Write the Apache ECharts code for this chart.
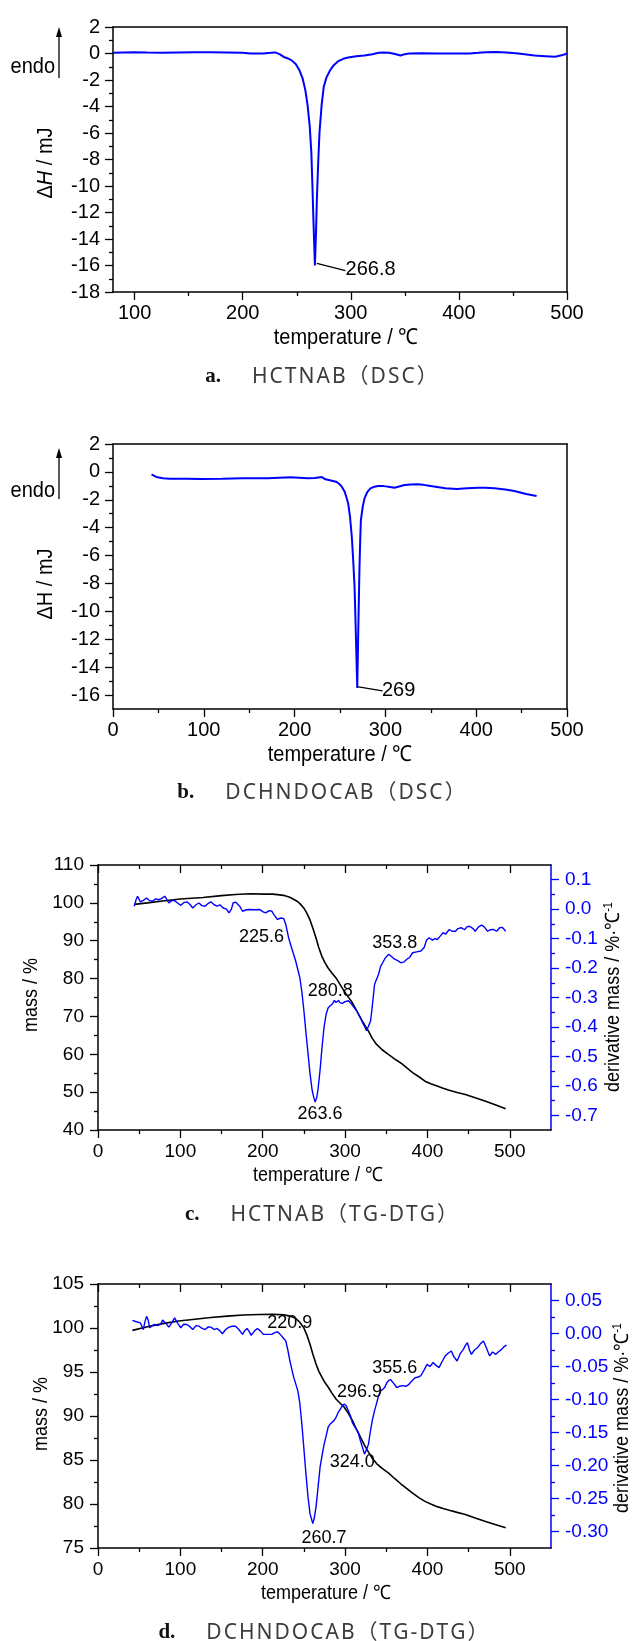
<!DOCTYPE html>
<html><head><meta charset="utf-8">
<script src="https://cdn.jsdelivr.net/npm/echarts@6/dist/echarts.min.js"></script>
<style>html,body{margin:0;padding:0;background:#fff}#c{width:634px;height:1641px}</style>
</head><body><div id="c"></div>
<script>
const FONT = '"Liberation Sans",Arial,Helvetica,sans-serif';
const BLUE = '#0000ff';

// ---------- panel a : HCTNAB DSC ----------
const dscA = [[80,0.05],[90,0.08],[100,0.1],[112,0.07],[125,0.05],[140,0.08],[155,0.1],[170,0.1],[185,0.08],[200,0.05],[207,0.0],[219,0.0],[226,0.05],[230,0.08],[234,-0.05],[238,-0.26],[242,-0.38],[245,-0.5],[249,-0.8],[252.5,-1.27],[255.5,-1.9],[258,-2.8],[260,-3.9],[262,-5.5],[263.5,-7.5],[264.5,-10],[265.5,-12.8],[266.8,-16],[267.8,-13.5],[268.6,-11],[269.8,-8.3],[271,-6],[273,-3.9],[275,-2.5],[277.5,-1.8],[280.6,-1.3],[284,-0.9],[288,-0.6],[293,-0.4],[297.5,-0.3],[305,-0.2],[312.5,-0.15],[320,-0.05],[325.6,0.05],[330,0.08],[335,0.05],[340,-0.02],[346,-0.15],[350,-0.05],[354,0.0],[365,0.02],[380,0.0],[395,0.0],[410,0.0],[418,0.05],[425,0.1],[435,0.12],[444,0.08],[455,0.0],[470,-0.15],[480,-0.2],[489,-0.25],[496,-0.12],[500,0.0]];
const leaderA = [[268.6,-15.84],[295,-16.39]];
const labelsA = [[318.3,-16.3,'266.8']];
const xTicksA = [100,200,300,400,500];
const xMinorA = [150,250,350,450];
const yTicksA = [-18,-16,-14,-12,-10,-8,-6,-4,-2,0,2];
const yMinorA = [-17,-15,-13,-11,-9,-7,-5,-3,-1,1];

// ---------- panel b : DCHNDOCAB DSC ----------
const dscB = [[42.4,-0.18],[46,-0.3],[49,-0.39],[55,-0.45],[62.5,-0.49],[80,-0.5],[98,-0.51],[120,-0.49],[143,-0.46],[170,-0.45],[196,-0.39],[205,-0.42],[214,-0.46],[222,-0.43],[230,-0.37],[232,-0.42],[234,-0.53],[240,-0.62],[245.5,-0.7],[249,-0.85],[252,-1.06],[255,-1.4],[257,-1.8],[259,-2.26],[261,-3.2],[263,-4.65],[264.5,-6.3],[266,-8.2],[267,-10.5],[268,-13],[269,-15.5],[270,-11.8],[271.4,-7],[272.2,-5],[273,-3.45],[275,-2.5],[277,-1.9],[280,-1.45],[283.5,-1.18],[288,-1.06],[292,-1.01],[298,-1.02],[303.5,-1.06],[310,-1.13],[315,-1.05],[321,-0.94],[328,-0.9],[335,-0.89],[342,-0.93],[348,-0.99],[357,-1.08],[366,-1.18],[379,-1.23],[390,-1.18],[402,-1.13],[410,-1.13],[420,-1.18],[432,-1.26],[442,-1.37],[455,-1.59],[466.5,-1.73]];
const leaderB = [[268.7,-15.4],[296.9,-15.7]];
const labelsB = [[314.5,-15.7,'269']];
const xTicksB = [0,100,200,300,400,500];
const xMinorB = [50,150,250,350,450];
const yTicksB = [-16,-14,-12,-10,-8,-6,-4,-2,0,2];
const yMinorB = [-15,-13,-11,-9,-7,-5,-3,-1,1];

// ---------- panel c : HCTNAB TG-DTG ----------
const tgC = [[44,99.6],[60,100],[78.4,100.5],[100,101],[127.5,101.4],[150,101.9],[166.7,102.2],[185,102.4],[201,102.3],[212,102.3],[220.6,102.1],[227,101.9],[232.8,101.5],[238,100.9],[242.6,100.3],[246,99.6],[250,98.6],[253.5,97.3],[257.4,95.5],[261,93.2],[264.7,90.7],[268,88.2],[272,85.8],[275.5,84.2],[279.4,82.8],[284,81.5],[289.2,80.1],[294,78.4],[299,76.6],[304,75.1],[308.8,73.6],[313.5,71.7],[318.6,69.6],[323.5,67.8],[328.4,66.1],[333,64.2],[338.2,62.6],[345,61.2],[352.9,59.9],[360,58.8],[367.6,57.7],[375,56.4],[382.4,55.1],[390,54],[397,52.9],[404,52.2],[411.8,51.6],[419,51],[426.5,50.5],[436,49.9],[446,49.4],[458,48.5],[470.6,47.6],[483,46.6],[495,45.6]];
const dtgC = [[44,0.010],[46,0.03],[48,0.044],[51.5,0.025],[55,0.03],[59,0.038],[62,0.03],[66,0.027],[70,0.035],[73.5,0.032],[77,0.036],[81,0.044],[86,0.021],[90,0.03],[93,0.029],[97,0.02],[100.5,0.013],[104,0.022],[108,0.025],[112,0.015],[115,0.004],[119,0.015],[122.5,0.021],[126,0.012],[130,0.010],[134,0.02],[137,0.025],[141,0.015],[144.6,0.010],[148,0.015],[152,0.004],[156,0.0],[159,-0.013],[162,0.0],[164,0.021],[167,0.024],[169,0.027],[172,0.01],[175.5,-0.007],[180,-0.002],[184,-0.001],[190,-0.002],[196,-0.001],[198,0.0],[201,-0.01],[204,-0.012],[206,-0.016],[208,-0.005],[211,-0.007],[214,-0.02],[218,-0.035],[222,-0.03],[225.5,-0.032],[228,-0.052],[231.4,-0.097],[235,-0.131],[240,-0.176],[245,-0.232],[247.5,-0.28],[250,-0.345],[252.5,-0.42],[255,-0.49],[257.5,-0.56],[260,-0.615],[262,-0.64],[263.7,-0.655],[265.5,-0.64],[267,-0.615],[269.5,-0.55],[272,-0.469],[274.5,-0.40],[277,-0.356],[279.5,-0.335],[282,-0.328],[285,-0.32],[287,-0.31],[289,-0.317],[292,-0.31],[294,-0.318],[296.6,-0.32],[300,-0.314],[304,-0.311],[307,-0.32],[311,-0.334],[314,-0.345],[318.6,-0.368],[322,-0.39],[324,-0.40],[326,-0.413],[328,-0.40],[331,-0.379],[333,-0.33],[335.8,-0.255],[338,-0.24],[340.7,-0.221],[343,-0.195],[345.6,-0.182],[349,-0.165],[353,-0.153],[356,-0.16],[360,-0.17],[364,-0.175],[367.6,-0.182],[371,-0.18],[375,-0.17],[378,-0.165],[382,-0.148],[387,-0.145],[392,-0.142],[396,-0.13],[399,-0.105],[402,-0.097],[406,-0.105],[409,-0.1],[412,-0.103],[416,-0.09],[419,-0.08],[422,-0.085],[426.5,-0.069],[430,-0.075],[434,-0.075],[437,-0.066],[441,-0.063],[445,-0.07],[448,-0.06],[451,-0.058],[455,-0.065],[458,-0.075],[462,-0.06],[465.7,-0.054],[469,-0.06],[473,-0.075],[476,-0.07],[480,-0.069],[484,-0.075],[487.7,-0.063],[491,-0.062],[495,-0.075]];
const labelsC = [[198.5,91.1,'225.6'],[281.9,76.6,'280.8'],[360.3,89.4,'353.8'],[269.6,44.1,'263.6']];
const xTicksCD = [0,100,200,300,400,500];
const xMinorCD = [50,150,250,350,450];
const yTicksC = [40,50,60,70,80,90,100,110];
const yMinorC = [45,55,65,75,85,95,105];
const y2TicksC = [-0.7,-0.6,-0.5,-0.4,-0.3,-0.2,-0.1,0,0.1];
const y2MinorC = [-0.65,-0.55,-0.45,-0.35,-0.25,-0.15,-0.05,0.05];

// ---------- panel d : DCHNDOCAB TG-DTG ----------
const tgD = [[41.7,99.73],[60,100.15],[78.4,100.5],[98,100.8],[117.6,101.0],[137,101.2],[157,101.35],[176,101.47],[196,101.54],[212,101.55],[225.5,101.5],[233,101.35],[240,101.1],[245,100.65],[250,100.0],[254,99.1],[257.4,98.15],[261,97],[264.7,95.9],[268,95.1],[272,94.4],[275.5,93.8],[279.4,93.3],[284,92.6],[289.2,91.9],[294,91.45],[299,91.0],[304,90.3],[308.8,89.5],[313.7,88.5],[318.6,87.6],[323.5,86.7],[328.4,85.9],[333,85.2],[338.2,84.6],[345,84.05],[352.9,83.5],[360,82.9],[367.6,82.3],[375,81.75],[382.4,81.2],[390,80.7],[397,80.3],[404,80.0],[411.8,79.7],[419,79.5],[426.5,79.3],[436,79.05],[446,78.8],[458,78.4],[470.6,78.0],[483,77.65],[495,77.3]];
const dtgD = [[41.7,0.0198],[44,0.021],[46.6,0.0178],[49,0.019],[51.5,0.016],[55,0.006],[57,0.018],[59,0.026],[61,0.02],[62.7,0.0087],[66,0.012],[68.6,0.0137],[72,0.012],[76,0.0137],[78.4,0.0203],[82,0.016],[86,0.0097],[89,0.015],[93,0.0238],[97,0.015],[100.5,0.0087],[104,0.014],[108,0.0137],[112,0.01],[115,0.006],[119,0.012],[122.5,0.0112],[126,0.008],[130,0.006],[134,0.01],[137,0.0097],[141,0.006],[144.6,0.0077],[148,0.004],[151,-0.0004],[155,0.006],[159,0.0097],[163,0.011],[166.7,0.0112],[171,0.006],[175.5,-0.0014],[178,0.004],[181,0.0077],[184,0.002],[186,-0.0029],[190,0.004],[193.6,0.0077],[197,0.004],[201,-0.0014],[206,-0.0014],[211,-0.0014],[214,0.001],[218,0.0027],[221,-0.001],[223,-0.004],[228,-0.0114],[230.5,-0.025],[233,-0.0417],[235.5,-0.055],[237.7,-0.0668],[240,-0.076],[242.6,-0.087],[245,-0.105],[247.5,-0.137],[250,-0.175],[252.5,-0.213],[255,-0.248],[257.4,-0.273],[260.8,-0.288],[262.5,-0.28],[264.7,-0.263],[267,-0.235],[269.6,-0.203],[272,-0.185],[274.5,-0.168],[277,-0.155],[279.4,-0.142],[282,-0.137],[284,-0.135],[286.5,-0.132],[289,-0.127],[291.5,-0.12],[294,-0.115],[296.5,-0.11],[299,-0.107],[301.5,-0.11],[304,-0.117],[306.5,-0.125],[308.8,-0.135],[311,-0.14],[313.7,-0.145],[316,-0.15],[318.6,-0.1625],[321,-0.172],[323.5,-0.1827],[326,-0.176],[328.4,-0.1676],[330.5,-0.15],[333,-0.132],[335.5,-0.118],[338,-0.107],[340.5,-0.095],[343,-0.087],[345.5,-0.085],[348,-0.082],[350.5,-0.075],[353,-0.071],[355.5,-0.07],[358,-0.074],[360.5,-0.078],[362.7,-0.082],[366,-0.08],[370,-0.079],[374,-0.08],[377.5,-0.077],[381,-0.072],[385,-0.067],[389,-0.066],[392,-0.064],[396,-0.055],[399.5,-0.0467],[403,-0.05],[407,-0.044],[410,-0.048],[414,-0.0517],[418,-0.042],[421.6,-0.034],[425,-0.03],[429,-0.0265],[432,-0.035],[436,-0.0417],[440,-0.03],[443.6,-0.024],[446,-0.018],[448.5,-0.014],[451,-0.025],[453.4,-0.0316],[457,-0.025],[460.8,-0.0215],[464,-0.016],[468,-0.0114],[471,-0.02],[475.5,-0.034],[479,-0.028],[483,-0.0316],[486,-0.028],[490,-0.024],[493,-0.02],[496,-0.0175]];
const labelsD = [[232.8,100.6,'220.9'],[317.4,92.7,'296.9'],[360.3,95.5,'355.6'],[308.8,84.8,'324.0'],[274.5,76.1,'260.7']];
const yTicksD = [75,80,85,90,95,100,105];
const yMinorD = [77.5,82.5,87.5,92.5,97.5,102.5];
const y2TicksD = [-0.3,-0.25,-0.2,-0.15,-0.1,-0.05,0,0.05];
const y2MinorD = [-0.275,-0.225,-0.175,-0.125,-0.075,-0.025,0.025];

// ---------- text ----------
const captions = [
  ['a.', 'HCTNAB（DSC）'],
  ['b.', 'DCHNDOCAB（DSC）'],
  ['c.', 'HCTNAB（TG-DTG）'],
  ['d.', 'DCHNDOCAB（TG-DTG）']
];
const xTitle = 'temperature / ℃';

// ---------- layout ----------
const grids = [
  {left:113, top:27, width:454, height:265},
  {left:113, top:444, width:454, height:265},
  {left:98, top:865, width:453, height:265},
  {left:98, top:1284, width:453, height:264}
].map(g => Object.assign(g, {containLabel:false, outerBoundsMode:'none', show:false}));

function axis(gridIndex, position, min, max, o) {
  const color = o.color || '#000';
  return {
    type:'value', gridIndex, position, min, max,
    splitLine:{show:false}, minorTick:{show:false}, minorSplitLine:{show:false},
    axisPointer:{show:false},
    axisLine:{show:!!o.line, onZero:false, lineStyle:{color, width:1.5}},
    axisTick: o.ticks ? {show:true, inside:!!o.inside, length:o.tickLen||8, customValues:o.ticks, lineStyle:{color, width:1.3}} : {show:false},
    axisLabel: o.labels ? {show:true, customValues:o.labels, color, fontSize:o.fs, fontFamily:FONT, margin:o.margin, formatter:o.fmt} : {show:false}
  };
}

const xAxis = [
  axis(0,'bottom',80,500,{line:true,ticks:xTicksA,labels:xTicksA,fs:20,margin:11}),
  axis(0,'bottom',80,500,{ticks:xMinorA,tickLen:4}),
  axis(0,'top',80,500,{line:true}),
  axis(1,'bottom',0,500,{line:true,ticks:xTicksB,labels:xTicksB,fs:20,margin:11}),
  axis(1,'bottom',0,500,{ticks:xMinorB,tickLen:4}),
  axis(1,'top',0,500,{line:true}),
  axis(2,'bottom',0,550,{line:true,ticks:xTicksCD,labels:xTicksCD,fs:19,margin:12}),
  axis(2,'bottom',0,550,{ticks:xMinorCD,tickLen:4}),
  axis(2,'top',0,550,{line:true,ticks:xTicksCD,inside:true}),
  axis(2,'top',0,550,{ticks:xMinorCD,tickLen:4,inside:true}),
  axis(3,'bottom',0,550,{line:true,ticks:xTicksCD,labels:xTicksCD,fs:19,margin:12}),
  axis(3,'bottom',0,550,{ticks:xMinorCD,tickLen:4}),
  axis(3,'top',0,550,{line:true,ticks:xTicksCD,inside:true}),
  axis(3,'top',0,550,{ticks:xMinorCD,tickLen:4,inside:true})
];
const yAxis = [
  axis(0,'left',-18,2,{line:true,ticks:yTicksA,labels:yTicksA,fs:20,margin:13}),
  axis(0,'left',-18,2,{ticks:yMinorA,tickLen:4}),
  axis(0,'right',-18,2,{line:true}),
  axis(1,'left',-17,2,{line:true,ticks:yTicksB,labels:yTicksB,fs:20,margin:13}),
  axis(1,'left',-17,2,{ticks:yMinorB,tickLen:4}),
  axis(1,'right',-17,2,{line:true}),
  axis(2,'left',40,110,{line:true,ticks:yTicksC,labels:yTicksC,fs:19,margin:14}),
  axis(2,'left',40,110,{ticks:yMinorC,tickLen:4}),
  axis(2,'right',-0.75,0.15,{line:true,color:BLUE,ticks:y2TicksC,labels:y2TicksC,fs:19,margin:14,fmt:v=>Number(v).toFixed(1)}),
  axis(2,'right',-0.75,0.15,{color:BLUE,ticks:y2MinorC,tickLen:4}),
  axis(3,'left',75,105,{line:true,ticks:yTicksD,labels:yTicksD,fs:19,margin:14}),
  axis(3,'left',75,105,{ticks:yMinorD,tickLen:4}),
  axis(3,'right',-0.325,0.075,{line:true,color:BLUE,ticks:y2TicksD,labels:y2TicksD,fs:19,margin:14,fmt:v=>Number(v).toFixed(2)}),
  axis(3,'right',-0.325,0.075,{color:BLUE,ticks:y2MinorD,tickLen:4})
];

function lineS(data, xi, yi, color, width) {
  return {type:'line', data, xAxisIndex:xi, yAxisIndex:yi, showSymbol:false, symbol:'none',
    lineStyle:{color, width}, silent:true, animation:false, z:3};
}
function labelS(data, xi, yi, fs) {
  return {type:'scatter', data, xAxisIndex:xi, yAxisIndex:yi, symbolSize:0, silent:true, z:5,
    itemStyle:{opacity:1, color:'#000'},
    label:{show:true, position:[0,0], align:'center', verticalAlign:'middle', opacity:1,
      textBorderWidth:0, formatter:p=>p.data[2], color:'#000', fontSize:fs, fontFamily:FONT}};
}

const series = [
  lineS(dscA,0,0,BLUE,2), lineS(leaderA,0,0,'#000',1.2), labelS(labelsA,0,0,20),
  lineS(dscB,3,3,BLUE,2), lineS(leaderB,3,3,'#000',1.2), labelS(labelsB,3,3,20),
  lineS(tgC,6,6,'#000',1.6), lineS(dtgC,6,8,BLUE,1.4), labelS(labelsC,6,6,18),
  lineS(tgD,10,10,'#000',1.6), lineS(dtgD,10,12,BLUE,1.4), labelS(labelsD,10,10,18)
];

function txt(x, y, text, fs, o) {
  o = o || {};
  return {type:'text', x, y, rotation:o.rot||0, scaleY:o.sy||1.1, silent:true, z:10,
    style:{text, fontSize:fs, fontFamily:o.font||FONT, fill:o.fill||'#000', fontWeight:o.weight||'normal',
      align:o.align||'center', verticalAlign:'middle', rich:o.rich}};
}
function arrow(x, yTop, yBot) {
  return [
    {type:'line', silent:true, shape:{x1:x,y1:yBot,x2:x,y2:yTop+7}, style:{stroke:'#000', lineWidth:1.3}},
    {type:'polygon', silent:true, shape:{points:[[x,yTop],[x-3,yTop+10],[x+3,yTop+10]]}, style:{fill:'#000'}}
  ];
}
function spaced(s) { return s.split('').map(c => '{n|' + c + '}').join(''); }
function caption(cx, y, pair) {
  const text = '{b|' + pair[0] + '}{g| }' + spaced(pair[1]);
  return {type:'text', x:cx, y, silent:true, z:10,
    style:{text, align:'center', verticalAlign:'middle',
      rich:{
        b:{fontSize:21, fontWeight:'bold', fontFamily:'"Liberation Serif","DejaVu Serif",serif', fill:'#111'},
        g:{width:30, fontSize:21},
        n:{fontSize:21, fontFamily:'"Noto Sans","Noto Sans CJK SC",sans-serif', fill:'#3c3c3c', padding:[0,1,0,1]}
      }}};
}
const richDH = {
  n:{fontSize:20, fontFamily:FONT, fill:'#000'},
  i:{fontSize:20, fontFamily:FONT, fontStyle:'italic', fill:'#000'}
};
const richDer = {
  n:{fontSize:18, fontFamily:FONT, fill:'#000', lineHeight:20},
  s:{fontSize:11, fontFamily:FONT, fill:'#000', verticalAlign:'top', lineHeight:20}
};

const graphic = [
  txt(55, 67, 'endo', 20, {align:'right'}), ...arrow(59, 27, 78),
  txt(46, 163, '{n|Δ}{i|H}{n| / mJ}', 20, {rot:Math.PI/2, rich:richDH}),
  txt(346, 338, xTitle, 20),
  caption(322, 377, captions[0]),
  txt(55, 491, 'endo', 20, {align:'right'}), ...arrow(59, 448, 499),
  txt(46, 584, 'ΔH / mJ', 20, {rot:Math.PI/2}),
  txt(340, 755, xTitle, 20),
  caption(322, 793, captions[1]),
  txt(32, 995, 'mass / %', 18, {rot:Math.PI/2}),
  txt(614, 997, '{n|derivative mass / %·℃}{s|-1}', 18, {rot:Math.PI/2, rich:richDer}),
  txt(318, 1176, xTitle, 18),
  caption(322, 1215, captions[2]),
  txt(42, 1414, 'mass / %', 18, {rot:Math.PI/2}),
  txt(623, 1418, '{n|derivative mass / %·℃}{s|-1}', 18, {rot:Math.PI/2, rich:richDer}),
  txt(326, 1594, xTitle, 18),
  caption(324, 1633, captions[3])
];

const chart = echarts.init(document.getElementById('c'), null, {renderer:'canvas'});
chart.setOption({
  animation:false,
  backgroundColor:'#fff',
  textStyle:{fontFamily:FONT},
  grid:grids, xAxis, yAxis, series, graphic
});
</script>
</body></html>
